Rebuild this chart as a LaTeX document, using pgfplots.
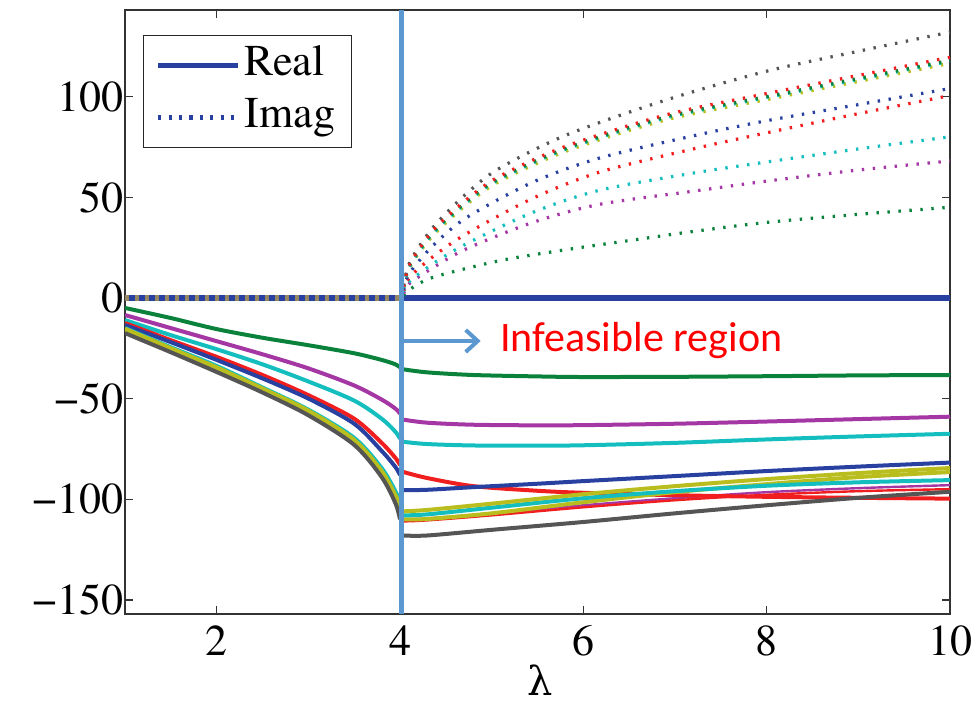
\documentclass[border=0pt]{standalone}
\usepackage{pgfplots}
\pgfplotsset{compat=1.18}
\usepackage{fontspec}
\newfontfamily\calibri{Carlito}
\newfontfamily\timesf{texgyretermes}[Extension=.otf, UprightFont=*-regular]
\newfontfamily\grk{DejaVu Serif}
\usetikzlibrary{arrows.meta}

\definecolor{mgreen}{RGB}{10,130,60}
\definecolor{mpurple}{RGB}{165,55,165}
\definecolor{mcyan}{RGB}{20,190,190}
\definecolor{mred}{RGB}{240,30,30}
\definecolor{mblue}{RGB}{40,65,160}
\definecolor{myellow}{RGB}{185,190,30}
\definecolor{mgray}{RGB}{85,85,85}
\definecolor{lblue}{RGB}{91,152,208}
\definecolor{zdot}{RGB}{150,135,100}

\begin{document}
\begin{tikzpicture}
\begin{axis}[
  width=412.5pt, height=302pt, scale only axis,
  xmin=1, xmax=10, ymin=-157, ymax=143,
  xtick={2,4,6,8,10}, xticklabels={2,4,6,8,10},
  ytick={-150,-100,-50,0,50,100},
  yticklabels={−150,−100,−50,0,50,100},
  tick align=inside, major tick length=4pt,
  tick style={black!80, line width=0.6pt},
  axis line style={black!80, line width=0.8pt},
  ticklabel style={font=\timesf\fontsize{22}{26}\selectfont},
  xticklabel style={yshift=-2.4pt},
  yticklabel style={xshift=2.8pt},
  xlabel={λ},
  xlabel style={at={(rel axis cs:0.503,0)}, anchor=north, inner sep=0pt, yshift=-25pt, font=\grk\fontsize{20}{24}\selectfont},
  clip mode=individual,
  legend style={at={(rel axis cs:0.0218,0.9587)}, anchor=north west,
    draw=black!85, line width=0.6pt, fill=white,
    font=\timesf\fontsize{22}{26}\selectfont,
    inner xsep=6pt, inner ysep=2pt,
    nodes={text height=16pt, text depth=6pt, inner sep=2pt},
    cells={anchor=west}},
  legend image code/.code={\draw[#1] (0pt,0pt) -- (40pt,0pt);},
  real/.style={line width=2pt, smooth, tension=0.5},
  imag/.style={line width=1.6pt, dash pattern=on 1.2pt off 4.3pt, smooth, tension=0.5},
]
\addlegendimage{mblue, line width=2.4pt}
\addlegendentry{Real}
\addlegendimage{mblue, line width=2.6pt, dash pattern=on 1.6pt off 3.6pt}
\addlegendentry{Imag}

% zero line
\addplot[forget plot, mblue, line width=2.8pt] coordinates {(1,0) (10,0)};
\addplot[forget plot, zdot, line width=2.8pt, dash pattern=on 2pt off 3pt] coordinates {(1,0) (4,0)};

% real parts, lambda < 4
\addplot[forget plot, real, mgreen] coordinates {(1,-5) (1.5,-10) (2,-15.5) (2.5,-19.8) (3,-23.5) (3.5,-27.5) (3.8,-30.8) (3.95,-33) (4.0,-34.5)};
\addplot[forget plot, real, mpurple] coordinates {(1,-8.5) (1.5,-15) (2,-21.5) (2.5,-28) (3,-35) (3.5,-43.5) (3.8,-50.5) (3.95,-55) (4.0,-57.5)};
\addplot[forget plot, real, mcyan] coordinates {(1,-11) (1.5,-18.5) (2,-25.5) (2.5,-33) (3,-41.5) (3.5,-51) (3.8,-60) (3.95,-66.5) (4.0,-70)};
\addplot[forget plot, real, mred] coordinates {(1,-12.5) (1.5,-21) (2,-29.3) (2.5,-38.3) (3,-48.3) (3.5,-60) (3.8,-72) (3.95,-79.5) (4.0,-83)};
\addplot[forget plot, real, mblue] coordinates {(1,-13.5) (1.5,-22) (2,-30.8) (2.5,-40) (3,-50) (3.5,-62.5) (3.8,-76) (3.95,-84) (4.0,-88)};
\addplot[forget plot, real, mcyan] coordinates {(1,-15) (1.5,-24.5) (2,-33.8) (2.5,-44.5) (3,-55.5) (3.5,-69.5) (3.8,-84.5) (3.95,-96) (4.0,-101)};
\addplot[forget plot, real, myellow] coordinates {(1,-15.3) (1.5,-25) (2,-34.5) (2.5,-45) (3,-56) (3.5,-70.5) (3.8,-86) (3.95,-98) (4.0,-103)};
\addplot[forget plot, real, myellow] coordinates {(1,-15.8) (1.5,-25.6) (2,-35.3) (2.5,-45.8) (3,-57) (3.5,-71.5) (3.8,-87.5) (3.95,-100) (4.0,-105)};
\addplot[forget plot, real, mgray] coordinates {(1,-17.5) (1.5,-27) (2,-36.8) (2.5,-47) (3,-58.3) (3.5,-73) (3.8,-89) (3.95,-102) (4.0,-110)};

% real parts, lambda > 4
\addplot[forget plot, real, mgreen] coordinates {(4.04,-35.5) (4.3,-37) (4.8,-38.3) (5.5,-39) (6,-39.3) (7,-39.2) (8,-38.9) (9,-38.5) (10,-38.3)};
\addplot[forget plot, real, mpurple] coordinates {(4.04,-60.5) (4.3,-62) (4.8,-63) (5.5,-63.3) (6,-63.2) (7,-62.5) (8,-61.4) (9,-60.2) (10,-59)};
\addplot[forget plot, real, mcyan] coordinates {(4.04,-71.5) (4.3,-72.6) (4.8,-73.3) (5.5,-73.4) (6,-73.2) (7,-72) (8,-70.3) (9,-68.8) (10,-67.5)};
\addplot[forget plot, real, mpurple, line width=1.2pt] coordinates {(4.04,-110) (4.3,-109.5) (5,-107) (6,-103) (7,-99.5) (8,-96.5) (9,-94.5) (10,-93)};
\addplot[forget plot, real, mred, line width=1.2pt] coordinates {(4.04,-111) (4.3,-110.5) (5,-108) (6,-104) (7,-100.5) (8,-97.8) (9,-96) (10,-95)};
\addplot[forget plot, real, mred] coordinates {(4.04,-86.5) (4.3,-89.5) (4.8,-93.5) (5.5,-95.8) (6,-96.8) (7,-98) (8,-98.8) (9,-99.3) (10,-99.7)};
\addplot[forget plot, real, mgray] coordinates {(4.04,-118) (4.3,-118) (5,-115.2) (6,-111.3) (7,-107) (8,-103) (9,-99.3) (10,-96.3)};
\addplot[forget plot, real, myellow] coordinates {(4.04,-110) (4.3,-109.8) (5,-107) (6,-101.5) (7,-96.5) (8,-92.5) (9,-89) (10,-86.5)};
\addplot[forget plot, real, mcyan] coordinates {(4.04,-108) (4.3,-107.5) (5,-104.2) (6,-99.5) (7,-96) (8,-93.3) (9,-91.6) (10,-90.5)};
\addplot[forget plot, real, myellow] coordinates {(4.04,-106) (4.3,-105.3) (5,-102.2) (6,-97.5) (7,-93.5) (8,-90) (9,-87) (10,-84.5)};
\addplot[forget plot, real, mblue] coordinates {(4.04,-95.5) (4.3,-95.3) (4.8,-94) (5.5,-92.3) (6,-91) (7,-88.5) (8,-86) (9,-83.8) (10,-81.8)};

% imaginary parts, lambda > 4
\addplot[forget plot, imag, mgreen] coordinates {(4.04,1) (4.1,4) (4.36,10.2) (5.09,18.5) (5.82,24) (6.55,28.8) (7.2,33) (8,37.5) (9,41.5) (10,45)};
\addplot[forget plot, imag, mpurple] coordinates {(4.04,2) (4.1,7) (4.36,15) (4.73,24.5) (5.45,37.5) (6.18,46.5) (7.2,53) (8,58) (9,63.5) (10,68)};
\addplot[forget plot, imag, mcyan] coordinates {(4.04,3) (4.1,8) (4.36,17) (4.73,27) (5.45,42.5) (6.18,53.5) (7.2,62) (8,67.5) (9,74) (10,80)};
\addplot[forget plot, imag, mred] coordinates {(4.04,3.5) (4.1,10) (4.36,20.5) (4.73,32) (5.45,49.5) (6.18,62.5) (7.2,74) (8,82) (9,91.5) (10,100.5)};
\addplot[forget plot, imag, mblue] coordinates {(4.04,4) (4.1,12) (4.36,26) (4.73,40) (5.45,57.5) (6.18,69.5) (7.2,80.5) (8,88) (9,96) (10,104)};
\addplot[forget plot, imag, mgray] coordinates {(4.04,6) (4.11,18) (4.36,35) (4.73,52) (5.09,64.5) (5.82,81) (6.91,98.4) (8,112.6) (9,122.5) (10,132)};
\addplot[forget plot, imag, myellow] coordinates {(4.04,5) (4.11,15.5) (4.36,31) (4.73,46.5) (5.09,58) (5.82,73) (6.91,88.5) (8,98.5) (9,107.5) (10,116.5)};
\addplot[forget plot, imag, mcyan] coordinates {(4.04,5) (4.11,16) (4.36,32) (4.73,47.5) (5.09,59) (5.82,74) (6.91,89.5) (8,99.5) (9,108.5) (10,117.5)};
\addplot[forget plot, imag, mgreen] coordinates {(4.04,5.5) (4.11,16.5) (4.36,32.5) (4.73,48) (5.09,59.5) (5.82,74.5) (6.91,90) (8,100) (9,109) (10,118)};
\addplot[forget plot, imag, mred] coordinates {(4.04,5.5) (4.11,17) (4.36,33.5) (4.73,49) (5.09,60.5) (5.82,75.5) (6.91,91) (8,101.5) (9,110.5) (10,119.5)};

% annotations
\draw[lblue, line width=2.5pt] (axis cs:4.02,-157) -- (axis cs:4.02,143);
\draw[lblue, line width=2pt, -{Straight Barb[length=6pt,width=11pt,line width=2pt]}] (axis cs:4.02,-21.4) -- (axis cs:4.88,-21.4);
\node[anchor=base west, inner sep=0pt, text=red, font=\calibri\fontsize{21}{25}\selectfont] at (axis cs:5.09,-26.7) {Infeasible region};
\end{axis}
\pgfresetboundingbox
\path[use as bounding box] ([xshift=-62.5pt,yshift=-44.5pt]current axis.south west) rectangle ([xshift=13pt,yshift=5pt]current axis.north east);
\end{tikzpicture}
\end{document}
